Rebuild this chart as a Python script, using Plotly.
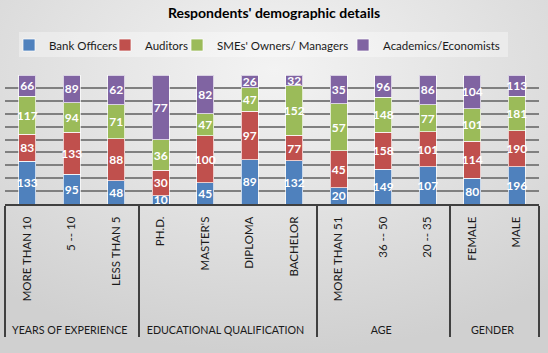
import base64
import plotly.graph_objects as go

groups = ["YEARS OF EXPERIENCE"] * 3 + ["EDUCATIONAL QUALIFICATION"] * 4 + ["AGE"] * 3 + ["GENDER"] * 2
categories = ["MORE THAN 10", "5 -- 10", "LESS THAN 5",
              "PH.D.", "MASTER'S", "DIPLOMA", "BACHELOR",
              "MORE THAN 51", "36 -- 50", "20 -- 35",
              "FEMALE", "MALE"]

bank_officers = [133, 95, 48, 10, 45, 89, 132, 20, 149, 107, 80, 196]
auditors = [83, 133, 88, 30, 100, 97, 77, 45, 158, 101, 114, 190]
smes = [117, 94, 71, 36, 47, 47, 152, 57, 148, 77, 101, 181]
academics = [66, 89, 62, 77, 82, 26, 32, 35, 96, 86, 104, 113]

series_names = ["Bank Officers", "Auditors", "SMEs' Owners/ Managers", "Academics/Economists"]
series_values = [bank_officers, auditors, smes, academics]
colors = ["#4F81BD", "#C0504D", "#9BBB59", "#8064A2"]

W, H = 548, 353
ML, MR, MT, MB = 5, 9, 75, 149
pw, ph = W - ML - MR, H - MT - MB

# group labels pushed down one line (as in reference spacing), slightly smaller text
group_labels = ["<br><span style='font-size:10.7px'>" + g + "</span>" for g in groups]

legend_keys = ["legend", "legend2", "legend3", "legend4"]
legend_text_px = [50, 146, 218, 384]

fig = go.Figure()
for name, vals, col, lk in zip(series_names, series_values, colors, legend_keys):
    fig.add_trace(go.Bar(
        x=[group_labels, categories], y=vals, name=name, legend=lk, showlegend=True,
        marker=dict(color=col, line=dict(color="rgba(255,255,255,0.7)", width=1)),
        text=[str(v) for v in vals], textposition="inside",
        insidetextanchor="middle", textangle=0, constraintext="none",
        textfont=dict(family="Lato", size=12, color="white", weight="bold"),
    ))

# background gradient via svg image
svg = (f'<svg xmlns="http://www.w3.org/2000/svg" width="{W}" height="{H}">'
       '<defs><radialGradient id="g" cx="50%" cy="20%" r="80%">'
       '<stop offset="0%" stop-color="#f3f3f3"/><stop offset="100%" stop-color="#d0d0d0"/>'
       '</radialGradient></defs>'
       f'<rect width="{W}" height="{H}" fill="url(#g)"/></svg>')
src = "data:image/svg+xml;base64," + base64.b64encode(svg.encode()).decode()


def px_to_paper_x(px):
    return (px - ML) / pw


def py_to_paper_y(py):
    return (MT + ph - py) / ph


legend_common = dict(orientation="v", xanchor="left", xref="container",
                     y=1 - 45 / H, yanchor="middle", yref="container",
                     bgcolor="rgba(0,0,0,0)", itemwidth=30,
                     font=dict(family="Lato", size=11.5, color="#1a1a1a"))
legends = {}
for lk, tx in zip(legend_keys, legend_text_px):
    legends[lk] = dict(legend_common, x=(tx - 41) / W)

fig.update_layout(
    width=W, height=H, barmode="stack", barnorm="percent", bargap=0.62,
    showlegend=True,
    margin=dict(l=ML, r=MR, t=MT, b=MB, autoexpand=False),
    paper_bgcolor="#e4e4e4", plot_bgcolor="rgba(0,0,0,0)",
    images=[dict(source=src, xref="paper", yref="paper", x=-ML / pw, y=1 + MT / ph,
                 sizex=W / pw, sizey=H / ph, sizing="stretch", layer="below",
                 xanchor="left", yanchor="top")],
    shapes=[dict(type="rect", xref="paper", yref="paper",
                 x0=px_to_paper_x(19), x1=px_to_paper_x(508),
                 y0=py_to_paper_y(57), y1=py_to_paper_y(32),
                 fillcolor="rgba(255,255,255,0.35)", line=dict(width=0), layer="below")],
    title=dict(text="<b>Respondents' demographic details</b>", x=0.5, xanchor="center",
               y=1 - 13 / H, yanchor="middle", yref="container",
               font=dict(family="Lato", size=14, color="#000000")),
    font=dict(family="Lato", color="#1a1a1a"),
    xaxis=dict(type="multicategory", tickangle=-90, showline=True, linecolor="#404040",
               linewidth=2, showdividers=True, dividercolor="#404040", dividerwidth=2,
               tickfont=dict(family="Lato", size=11.5, color="#1a1a1a"), ticks="",
               ticklabelstandoff=6, automargin=False),
    yaxis=dict(range=[0, 100], dtick=10, showticklabels=False, showgrid=True,
               gridcolor="#808080", gridwidth=1.5, zeroline=False, fixedrange=True),
    **legends,
)

fig.write_html("out.html", config={"displayModeBar": False},
               post_script="document.body.style.margin='0';")
